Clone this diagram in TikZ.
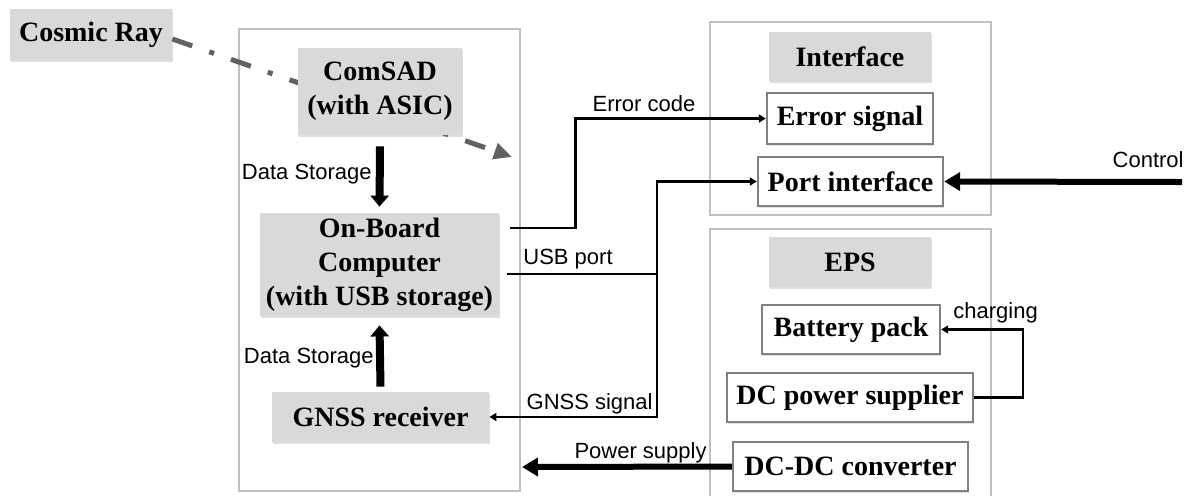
\documentclass[tikz,border=0pt]{standalone}
\usepackage{fontspec}
\setmainfont{Liberation Serif}
\setsansfont{Liberation Sans}
\usetikzlibrary{arrows.meta}
\usetikzlibrary{shadows}

\begin{document}
\begin{tikzpicture}[x = 0.5pt, y = -0.5pt]
\tikzstyle{GroupBox}=[draw = black!25, line width = 0.7pt, inner sep = 0pt]
\tikzstyle{GrayBox}=[fill = black!15, inner sep = 2pt, align = center,
                     font = \fontsize{14}{17}\selectfont\bfseries,
                     drop shadow = {shadow xshift = 0.4pt, shadow yshift = -0.8pt,
                                    opacity = 0.25}]
\tikzstyle{WhiteBox}=[draw = black!50, line width = 1.2pt, fill = white,
                      inner sep = 2pt, font = \fontsize{14}{17}\selectfont\bfseries,
                      drop shadow = {shadow xshift = 0.6pt, shadow yshift = -0.8pt,
                                     opacity = 0.25}]
\tikzstyle{SignalLabel}=[inner sep = 0pt, font = \sffamily\fontsize{11}{13}\selectfont]
\tikzstyle{ThinArrow}=[line width = 1.2pt, -{Triangle[length = 3.5pt, width = 4pt]}]
\tikzstyle{ThickArrow}=[line width = 3pt, -{Triangle[length = 8pt, width = 9pt]}]
\tikzstyle{StoreArrow}=[line width = 4pt, -{Triangle[length = 5.5pt, width = 9pt]}]
\tikzstyle{RayArrow}=[draw = black!62, line width = 2.5pt,
                      dash pattern = on 10.5pt off 9pt on 2.5pt off 9pt,
                      -{Triangle[length = 9pt, width = 8pt]}]
\useasboundingbox (0,0) rectangle (1189,495);
\node[GroupBox, minimum width = 140.5pt, minimum height = 231pt] (board) at (379.5,260) {};
\node[GroupBox, minimum width = 140.5pt, minimum height = 96.5pt] (ifacegrp) at (850.5,118.5) {};
\node[GroupBox, minimum width = 140.5pt, minimum height = 145.5pt] (epsgrp) at (850.5,374.5) {};
\node[GrayBox, minimum width = 81pt, minimum height = 25.5pt] (ray) at (91,34.5) {Cosmic Ray};
\coordinate (raytip) at (512,157);
\draw[RayArrow] ([yshift = -2.25pt]ray.east) -- (raytip);
\node[GrayBox, minimum width = 82pt, minimum height = 43.5pt] (comsad) at (380,91.5) {ComSAD\\(with ASIC)};
\node[GrayBox, minimum width = 119.5pt, minimum height = 51.5pt] (obc) at (379.5,264.5) {On-Board\\Computer\\(with USB storage)};
\node[GrayBox, minimum width = 108.5pt, minimum height = 25pt] (gnss) at (380.5,417) {GNSS receiver};
\node[GrayBox, minimum width = 81pt, minimum height = 24.5pt] (iface) at (850,56.5) {Interface};
\node[WhiteBox, minimum width = 83pt, minimum height = 25.5pt] (errsig) at (850,118.5) {Error signal};
\node[WhiteBox, minimum width = 92.5pt, minimum height = 24.5pt] (portif) at (850.5,181.5) {Port interface};
\node[GrayBox, minimum width = 81pt, minimum height = 25pt] (eps) at (850,262) {EPS};
\node[WhiteBox, minimum width = 89pt, minimum height = 24.5pt] (batt) at (851,329.5) {Battery pack};
\node[WhiteBox, minimum width = 123pt, minimum height = 24.5pt] (dcps) at (850,397.5) {DC power supplier};
\node[WhiteBox, minimum width = 117.5pt, minimum height = 24.5pt] (dcdc) at (850.5,466.5) {DC-DC converter};
\draw[StoreArrow] ([yshift = -5.5pt]comsad.south) -- ([yshift = 3pt]obc.north);
\node[SignalLabel, anchor = base east] (store1) at (372,179) {Data Storage};
\draw[StoreArrow] ([yshift = 2.5pt]gnss.north) -- ([yshift = -4.5pt]obc.south);
\node[SignalLabel, anchor = base east] (store2) at (374,363) {Data Storage};
\draw[ThinArrow] ([xshift = 5.5pt, yshift = 18.25pt]obc.east) -- ++(65,0) |- (errsig.west);
\node[SignalLabel, anchor = base] (errcode) at (644,111) {Error code};
\coordinate (usbj) at (657,274);
\draw[ThinArrow] ([xshift = 4pt, yshift = -4.75pt]obc.east) -- (usbj) |- (portif.west);
\node[SignalLabel, anchor = base west] (usb) at (523,264) {USB port};
\draw[ThinArrow] (usbj) |- (gnss.east);
\node[SignalLabel, anchor = base east] (gnsssig) at (653,409) {GNSS signal};
\coordinate (ctrl) at (1182,182);
\draw[ThickArrow] (ctrl) -- (portif.east);
\node[SignalLabel, anchor = base east] (control) at (1184,167) {Control};
\draw[ThinArrow] (dcps.east) -- ++(49,0) |- (batt.east);
\node[SignalLabel, anchor = base west] (charge) at (953,318) {charging};
\coordinate (pwr) at (522,467);
\draw[ThickArrow] (dcdc.west) -- (pwr);
\node[SignalLabel, anchor = base east] (power) at (707,458) {Power supply};
\end{tikzpicture}
\end{document}
